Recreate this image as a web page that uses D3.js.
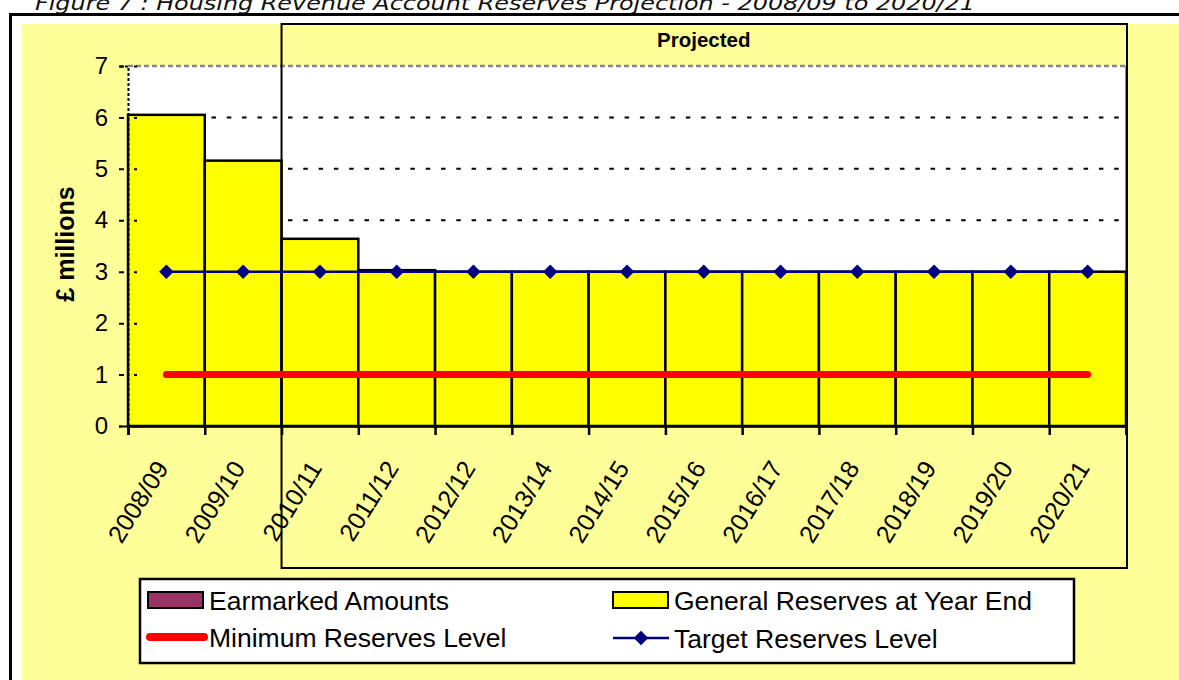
<!DOCTYPE html>
<html>
<head>
<meta charset="utf-8">
<script src="https://cdn.jsdelivr.net/npm/d3@7"></script>
<style>
  body { margin: 0; background: #fff; }
  svg { display: block; font-family: "Liberation Sans", Arial, sans-serif; }
</style>
</head>
<body>
<div id="chart"></div>
<script>
// Chart data
const title = 'Figure 7 : Housing Revenue Account Reserves Projection - 2008/09 to 2020/21';
const categories = ['2008/09', '2009/10', '2010/11', '2011/12', '2012/12', '2013/14', '2014/15',
  '2015/16', '2016/17', '2017/18', '2018/19', '2019/20', '2020/21'];
const generalReserves = [6.05, 5.16, 3.64, 3.03, 3, 3, 3, 3, 3, 3, 3, 3, 3];
const earmarkedAmounts = [0, 0, 0, 0, 0, 0, 0, 0, 0, 0, 0, 0, 0];
const minimumLevel = [1, 1, 1, 1, 1, 1, 1, 1, 1, 1, 1, 1, 1];
const targetLevel = [3, 3, 3, 3, 3, 3, 3, 3, 3, 3, 3, 3, 3];
const yTicks = [0, 1, 2, 3, 4, 5, 6, 7];
const projectedFrom = '2010/11';

const W = 1179, H = 680;
const plot = { left: 128, right: 1126, top: 66, bottom: 426 };

const svg = d3.select('#chart').append('svg')
  .attr('width', W)
  .attr('height', H);

// Page title (only its lower part shows, as in the source) and outer frame
svg.append('text')
  .attr('x', 35)
  .attr('y', 10)
  .attr('textLength', 940)
  .attr('lengthAdjust', 'spacingAndGlyphs')
  .style('font-family', '"DejaVu Sans", Verdana, sans-serif')
  .style('font-style', 'italic')
  .style('font-size', '20px')
  .style('fill', '#111')
  .text(title);

svg.append('rect')
  .attr('x', 10.5).attr('y', 14.5)
  .attr('width', W).attr('height', H)
  .attr('fill', '#fff')
  .attr('stroke', '#000')
  .attr('stroke-width', 3);

svg.append('rect')
  .attr('x', 22).attr('y', 24)
  .attr('width', W).attr('height', H)
  .attr('fill', '#FFFF99');

// Scales
const x = d3.scaleBand().domain(categories).range([plot.left, plot.right]).padding(0);
const xEdge = d3.scaleLinear().domain([0, categories.length]).range([plot.left, plot.right]);
const y = d3.scaleLinear().domain([0, 7]).range([plot.bottom, plot.top]);

// Plot area
svg.append('rect')
  .attr('x', plot.left).attr('y', plot.top)
  .attr('width', plot.right - plot.left)
  .attr('height', plot.bottom - plot.top)
  .attr('fill', '#fff');

// Gridlines
svg.append('g')
  .selectAll('line')
  .data(yTicks.filter(d => d > 0 && d < 7))
  .enter()
  .append('line')
  .attr('x1', plot.left).attr('x2', plot.right)
  .attr('y1', d => y(d)).attr('y2', d => y(d))
  .attr('stroke', '#000')
  .attr('stroke-width', 2)
  .attr('stroke-dasharray', '4.5,10.8')
  .attr('stroke-dashoffset', -7);

// Plot border: dashed gray top, solid gray right
svg.append('line')
  .attr('x1', plot.left).attr('x2', plot.right)
  .attr('y1', y(7)).attr('y2', y(7))
  .attr('stroke', '#888').attr('stroke-width', 2.5)
  .attr('stroke-dasharray', '5,3');
svg.append('line')
  .attr('x1', plot.right).attr('x2', plot.right)
  .attr('y1', y(7)).attr('y2', y(3))
  .attr('stroke', '#888').attr('stroke-width', 2);

// Bars: general reserves with earmarked amounts stacked on top
const stacked = categories.map((c, i) => ({
  cat: c, general: generalReserves[i], earmarked: earmarkedAmounts[i]
}));

svg.append('g')
  .selectAll('rect')
  .data(stacked)
  .enter()
  .append('rect')
  .attr('x', d => x(d.cat))
  .attr('y', d => y(d.general))
  .attr('width', x.bandwidth())
  .attr('height', d => y(0) - y(d.general))
  .attr('fill', '#FFFF00')
  .attr('stroke', '#000')
  .attr('stroke-width', 2.5);

svg.append('g')
  .selectAll('rect')
  .data(stacked.filter(d => d.earmarked > 0))
  .enter()
  .append('rect')
  .attr('x', d => x(d.cat))
  .attr('y', d => y(d.general + d.earmarked))
  .attr('width', x.bandwidth())
  .attr('height', d => y(d.general) - y(d.general + d.earmarked))
  .attr('fill', '#993366')
  .attr('stroke', '#000')
  .attr('stroke-width', 2.5);

// Y axis
const yAxis = svg.append('g')
  .attr('transform', `translate(${plot.left},0)`)
  .call(d3.axisLeft(y).tickValues(yTicks).tickFormat(d3.format('d')).tickSize(9).tickPadding(11));
yAxis.select('.domain')
  .attr('stroke', '#000')
  .attr('stroke-width', 2)
  .attr('stroke-dasharray', '3,2');
yAxis.selectAll('.tick line')
  .attr('x1', -9).attr('x2', 9)
  .attr('stroke', '#000')
  .attr('stroke-width', 2)
  .attr('stroke-dasharray', '5,10,3');
yAxis.selectAll('.tick text')
  .style('font-size', '24px')
  .style('fill', '#000');

svg.append('text')
  .attr('transform', 'translate(74,244) rotate(-90)')
  .attr('text-anchor', 'middle')
  .style('font-size', '25px')
  .style('font-weight', 'bold')
  .text('£ millions');

// X axis: ticks at category boundaries, labels at centres
const xAxis = svg.append('g')
  .attr('transform', `translate(0,${plot.bottom})`)
  .call(d3.axisBottom(xEdge).tickValues(d3.range(categories.length + 1)).tickSize(9).tickFormat(''));
xAxis.select('.domain').attr('stroke-width', 2.5);
xAxis.selectAll('.tick line').attr('stroke-width', 2.5);

svg.append('g')
  .selectAll('text')
  .data(categories)
  .enter()
  .append('text')
  .attr('transform', d => `translate(${x(d) + x.bandwidth() / 2 + 3},${plot.bottom + 42}) rotate(-58)`)
  .attr('text-anchor', 'end')
  .style('font-size', '25px')
  .text(d => d);

// Projected box
const boxLeft = x(projectedFrom);
svg.append('rect')
  .attr('x', boxLeft).attr('y', 24)
  .attr('width', plot.right + 1 - boxLeft)
  .attr('height', 568 - 24)
  .attr('fill', 'none')
  .attr('stroke', '#000')
  .attr('stroke-width', 2);

svg.append('text')
  .attr('x', (boxLeft + plot.right) / 2)
  .attr('y', 47)
  .attr('text-anchor', 'middle')
  .style('font-size', '20.5px')
  .style('font-weight', 'bold')
  .text('Projected');

// Minimum reserves line
const line = d3.line()
  .x(d => x(d.cat) + x.bandwidth() / 2)
  .y(d => y(d.v));

svg.append('path')
  .datum(categories.map((c, i) => ({ cat: c, v: minimumLevel[i] })))
  .attr('d', line)
  .attr('fill', 'none')
  .attr('stroke', '#FF0000')
  .attr('stroke-width', 7)
  .attr('stroke-linecap', 'round');

// Target reserves line with diamond markers
const targetData = categories.map((c, i) => ({ cat: c, v: targetLevel[i] }));
svg.append('path')
  .datum(targetData)
  .attr('d', line)
  .attr('fill', 'none')
  .attr('stroke', '#000080')
  .attr('stroke-width', 2.5);

const diamond = d3.symbol().type(d3.symbolSquare).size(105);
svg.append('g')
  .selectAll('path')
  .data(targetData)
  .enter()
  .append('path')
  .attr('d', diamond)
  .attr('transform', d => `translate(${x(d.cat) + x.bandwidth() / 2},${y(d.v)}) rotate(45)`)
  .attr('fill', '#000080');

// Legend
const legend = svg.append('g');
legend.append('rect')
  .attr('x', 140).attr('y', 579)
  .attr('width', 934).attr('height', 84)
  .attr('fill', '#fff')
  .attr('stroke', '#000')
  .attr('stroke-width', 2.5);

const legendItems = [
  { label: 'Earmarked Amounts', type: 'box', color: '#993366', x: 148, y: 600 },
  { label: 'General Reserves at Year End', type: 'box', color: '#FFFF00', x: 613, y: 600 },
  { label: 'Minimum Reserves Level', type: 'thick', color: '#FF0000', x: 148, y: 637 },
  { label: 'Target Reserves Level', type: 'marker', color: '#000080', x: 613, y: 638 }
];

legendItems.forEach(d => {
  if (d.type === 'box') {
    legend.append('rect')
      .attr('x', d.x).attr('y', d.y - 8)
      .attr('width', 55).attr('height', 16)
      .attr('fill', d.color)
      .attr('stroke', '#000')
      .attr('stroke-width', 2);
  } else if (d.type === 'thick') {
    legend.append('line')
      .attr('x1', d.x + 2).attr('x2', d.x + 56)
      .attr('y1', d.y).attr('y2', d.y)
      .attr('stroke', d.color)
      .attr('stroke-width', 8)
      .attr('stroke-linecap', 'round');
  } else {
    legend.append('line')
      .attr('x1', d.x).attr('x2', d.x + 56)
      .attr('y1', d.y).attr('y2', d.y)
      .attr('stroke', d.color)
      .attr('stroke-width', 2.5);
    legend.append('path')
      .attr('d', diamond)
      .attr('transform', `translate(${d.x + 28},${d.y}) rotate(45)`)
      .attr('fill', d.color);
  }
  legend.append('text')
    .attr('x', d.x + 61)
    .attr('y', d.y + 9.5)
    .style('font-size', '26.5px')
    .text(d.label);
});
</script>
</body>
</html>
